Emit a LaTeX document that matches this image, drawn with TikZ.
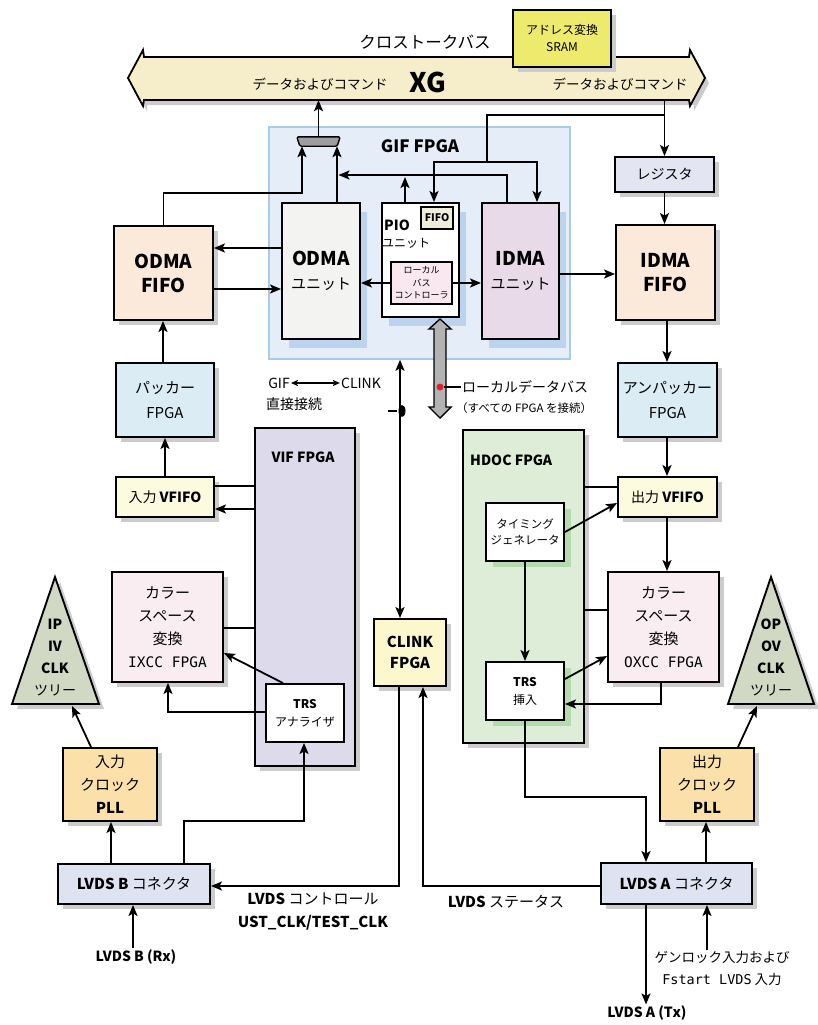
\documentclass[tikz,border=0pt]{standalone}
\usepackage{fontspec}
\setmainfont{Noto Sans CJK JP}
\newfontfamily\mono{DejaVu Sans Mono}
\usetikzlibrary{arrows.meta,shadows,calc}
\definecolor{busfill}{HTML}{F6EECB}
\definecolor{sramy}{HTML}{EEEA6E}
\definecolor{gifbg}{HTML}{E5EDF8}
\definecolor{gifborder}{HTML}{A9CBEA}
\definecolor{odmaucol}{HTML}{F3F4F1}
\definecolor{idmaucol}{HTML}{E8DAE8}
\definecolor{lbccol}{HTML}{FAE8F0}
\definecolor{fifocol}{HTML}{EFEEDB}
\definecolor{peach}{HTML}{FBE9DA}
\definecolor{lblue}{HTML}{DCECF4}
\definecolor{regcol}{HTML}{E3E6F2}
\definecolor{vfifocol}{HTML}{FDFBDF}
\definecolor{vifcol}{HTML}{DDDAEC}
\definecolor{hdoccol}{HTML}{DDEDD8}
\definecolor{pinkcol}{HTML}{F9EDF2}
\definecolor{tricol}{HTML}{D1D9C4}
\definecolor{pllcol}{HTML}{FBE0AA}
\definecolor{lvdscol}{HTML}{DDE3F1}
\definecolor{clinkcol}{HTML}{FCF7CC}
\definecolor{shadowgray}{HTML}{CCCCCC}
\definecolor{shadowblue}{HTML}{BCD3EE}
\definecolor{shadowgreen}{HTML}{B6DAAF}
\definecolor{busgray}{HTML}{B3B3B3}
\definecolor{muxgray}{HTML}{9E9E9E}
\definecolor{reddot}{HTML}{E0202A}
\tikzset{
  box/.style={draw, line width=1.9pt, inner sep=0pt, align=center},
  shd/.style={drop shadow={shadow xshift=5pt, shadow yshift=-5pt, fill=shadowgray, opacity=1}},
  bshd/.style={drop shadow={shadow xshift=7pt, shadow yshift=-9pt, fill=shadowblue, opacity=1}},
  gshd/.style={drop shadow={shadow xshift=7pt, shadow yshift=-6pt, fill=shadowgreen, opacity=1}},
  conn/.style={line width=1.8pt},
  arr/.style={conn, -{Stealth[length=11pt,width=9pt,inset=2.5pt]}},
  darr/.style={conn, {Stealth[length=11pt,width=9pt,inset=2.5pt]}-{Stealth[length=11pt,width=9pt,inset=2.5pt]}},
  smallarr/.style={line width=1.3pt, {Stealth[length=7pt,width=6pt,inset=1.5pt]}-{Stealth[length=7pt,width=6pt,inset=1.5pt]}},
  lbl/.style={inner sep=1pt, align=center},
}
\newcommand\mkbox[7]{\node[box,#2,minimum width={#5-#3},minimum height={#6-#4}] (#1) at ({(#3+#5)/2},{(#4+#6)/2}) {#7};}
\begin{document}
\begin{tikzpicture}[x=1pt,y=-1pt]
\useasboundingbox (0,0) rectangle (817,1025);

% ---------- cross-talk bus ----------
\fill[shadowgray] (132,83) -- (147,55) -- (147,62) -- (694,62) -- (694,55) -- (709,83) -- (694,111) -- (694,105) -- (147,105) -- (147,111) -- cycle;
\draw[line width=1.8pt, fill=busfill, line join=miter] (128,78) -- (143,50) -- (144,57) -- (689,57) -- (690,50) -- (705,78) -- (690,106) -- (689,100) -- (144,100) -- (143,106) -- cycle;
\node[minimum width=547, minimum height=43, inner sep=0pt] (bus) at (416.5,78.5) {};
\node[lbl, font=\fontsize{16.5}{20}\selectfont] (xtalk) at (425,42) {クロストークバス};
\mkbox{sram}{fill=sramy,shd,font=\fontsize{12}{17}\selectfont}{513}{10}{611}{67}{アドレス変換\\SRAM}
\node[lbl, font=\fontsize{13.5}{16}\selectfont] (dc1) at (320,84) {データおよびコマンド};
\node[lbl, font=\bfseries\fontsize{27}{30}\selectfont] (xg) at (428,82) {XG};
\node[lbl, font=\fontsize{13.5}{16}\selectfont] (dc2) at (620,84) {データおよびコマンド};

% ---------- GIF FPGA ----------
\mkbox{gif}{draw=gifborder,fill=gifbg,line width=1.5pt}{269}{127}{570}{359}{}
\node[lbl, font=\bfseries\fontsize{17}{20}\selectfont] (giflbl) at (420,146) {GIF FPGA};
\node[minimum width=43, minimum height=9, inner sep=0pt] (mux) at (318.5,141.5) {};
\draw[line width=1.4pt, fill=muxgray, rounded corners=1.5pt] (mux.north west) -- (mux.north east) -- ([xshift=-3pt]mux.south east) -- ([xshift=3pt]mux.south west) -- cycle;

\mkbox{odmau}{fill=odmaucol,bshd,font=\fontsize{15}{24}\selectfont}{282}{203}{360}{339}{{\bfseries\fontsize{19}{24}\selectfont ODMA}\\ユニット}
\mkbox{pio}{fill=white,bshd}{382}{203}{459}{317}{}
\node[lbl, font=\bfseries\fontsize{14}{16}\selectfont] (piolbl) at (397,225) {PIO};
\node[lbl, font=\fontsize{12}{14}\selectfont] (pioj) at (406,243) {ユニット};
\mkbox{pfifo}{fill=fifocol,line width=1.5pt,font=\bfseries\fontsize{10.5}{12}\selectfont}{421}{207}{453}{229}{FIFO}
\mkbox{lbc}{fill=lbccol,line width=1.5pt,font=\fontsize{9}{12.5}\selectfont}{391}{262}{452}{304}{ローカル\\バス\\コントローラ}
\mkbox{idmau}{fill=idmaucol,bshd,font=\fontsize{15}{24}\selectfont}{482}{203}{559}{339}{{\bfseries\fontsize{19}{24}\selectfont IDMA}\\ユニット}

% ---------- left/right columns ----------
\mkbox{odmafifo}{fill=peach,shd,font=\bfseries\fontsize{19}{24}\selectfont}{114}{226}{213}{320}{ODMA\\FIFO}
\mkbox{idmafifo}{fill=peach,shd,font=\bfseries\fontsize{19}{24}\selectfont}{616}{225}{715}{320}{IDMA\\FIFO}
\mkbox{reg}{fill=regcol,shd,font=\fontsize{14}{17}\selectfont}{615}{157}{714}{192}{レジスタ}
\mkbox{packer}{fill=lblue,shd,font=\fontsize{15}{25}\selectfont}{116}{363}{214}{437}{パッカー\\FPGA}
\mkbox{unpacker}{fill=lblue,shd,font=\fontsize{15}{25}\selectfont}{618}{363}{717}{437}{アンパッカー\\FPGA}
\mkbox{invfifo}{fill=vfifocol,shd,font=\fontsize{14}{17}\selectfont}{116}{477}{214}{517}{入力 \textbf{VFIFO}}
\mkbox{outvfifo}{fill=vfifocol,shd,font=\fontsize{14}{17}\selectfont}{618}{477}{717}{517}{出力 \textbf{VFIFO}}

% ---------- VIF FPGA ----------
\mkbox{vif}{fill=vifcol,shd}{255}{428}{355}{766}{}
\node[lbl, font=\bfseries\fontsize{14}{16}\selectfont] (viflbl) at (303,457) {VIF FPGA};
\mkbox{trsa}{fill=white,font=\fontsize{12}{18}\selectfont}{266}{684}{344}{742}{\textbf{TRS}\\アナライザ}
\mkbox{ixcc}{fill=pinkcol,shd,font=\fontsize{15}{23}\selectfont}{112}{572}{223}{682}{カラー\\スペース\\変換\\{\mono\fontsize{14.5}{23}\selectfont IXCC FPGA}}

% ---------- HDOC FPGA ----------
\mkbox{hdoc}{fill=hdoccol,shd}{463}{430}{584}{743}{}
\node[lbl, anchor=west, font=\bfseries\fontsize{14}{16}\selectfont] (hdoclbl) at (469,460) {HDOC FPGA};
\mkbox{timing}{fill=white,gshd,font=\fontsize{11.5}{16}\selectfont}{486}{503}{564}{561}{タイミング\\ジェネレータ}
\mkbox{trsi}{fill=white,gshd,font=\fontsize{12}{18}\selectfont}{486}{662}{564}{720}{\textbf{TRS}\\挿入}
\mkbox{oxcc}{fill=pinkcol,shd,font=\fontsize{15}{23}\selectfont}{608}{572}{719}{682}{カラー\\スペース\\変換\\{\mono\fontsize{14.5}{23}\selectfont OXCC FPGA}}

% ---------- CLINK ----------
\mkbox{clink}{fill=clinkcol,shd,font=\bfseries\fontsize{15}{21}\selectfont}{374}{619}{446}{686}{CLINK\\FPGA}

% ---------- clock trees ----------
\fill[shadowgray] (60,582) -- (17,709) -- (104,709) -- cycle;
\draw[line width=1.9pt, fill=tricol, line join=miter] (55,577) -- (12,704) -- (99,704) -- cycle;
\node[lbl, font=\bfseries\fontsize{14}{22}\selectfont] (iptree) at (55,658) {IP\\IV\\CLK\\{\mdseries ツリー}};
\coordinate (ipin) at (72,706);
\fill[shadowgray] (776,582) -- (733,709) -- (819,709) -- cycle;
\draw[line width=1.9pt, fill=tricol, line join=miter] (771,577) -- (728,704) -- (814,704) -- cycle;
\node[lbl, font=\bfseries\fontsize{14}{22}\selectfont] (optree) at (771,657) {OP\\OV\\CLK\\{\mdseries ツリー}};
\coordinate (opin) at (757,706);

\mkbox{pllin}{fill=pllcol,shd,font=\fontsize{15}{23}\selectfont}{63}{748}{157}{821}{入力\\クロック\\\textbf{PLL}}
\mkbox{pllout}{fill=pllcol,shd,font=\fontsize{15}{23}\selectfont}{660}{748}{754}{821}{出力\\クロック\\\textbf{PLL}}
\mkbox{lvdsb}{fill=lvdscol,shd,font=\fontsize{15}{17}\selectfont}{58}{864}{210}{904}{\textbf{LVDS B} コネクタ}
\mkbox{lvdsa}{fill=lvdscol,shd,font=\fontsize{15}{17}\selectfont}{601}{863}{752}{904}{\textbf{LVDS A} コネクタ}

% ---------- labels ----------
\node[lbl, font=\fontsize{14}{17}\selectfont] (lgif) at (279,383) {GIF};
\node[lbl, font=\fontsize{14}{17}\selectfont] (lclink) at (361,383) {CLINK};
\node[lbl, anchor=west, font=\fontsize{14}{17}\selectfont] (direct) at (265,404) {直接接続};
\node[lbl, anchor=west, font=\fontsize{14}{17}\selectfont] (ldb) at (461,387) {ローカルデータバス};
\node[lbl, anchor=west, font=\fontsize{11.5}{14}\selectfont] (ldb2) at (455,408) {（すべての FPGA を接続）};
\node[lbl, font=\fontsize{15}{23}\selectfont] (lvdsctl) at (313,912) {\textbf{LVDS} コントロール\\\textbf{UST\_CLK/TEST\_CLK}};
\node[lbl, font=\fontsize{15}{17}\selectfont] (lvdsst) at (506,902) {\textbf{LVDS} ステータス};
\node[lbl, font=\bfseries\fontsize{14}{16}\selectfont] (lvdsbrx) at (136,957) {LVDS B (Rx)};
\node[lbl, font=\bfseries\fontsize{14}{16}\selectfont] (lvdsatx) at (647,1013) {LVDS A (Tx)};
\node[lbl, font=\fontsize{13.5}{22}\selectfont] (genlock) at (722,968) {ゲンロック入力および\\{\mono\fontsize{13.5}{22}\selectfont Fstart LVDS} 入力};

% ---------- connectors ----------
\draw[arr] (mux.north) -- (mux.north |- bus.south);
\draw[arr] (odmafifo.north) |- (302,193) -- (mux.south -| 302,0);
\draw[arr] (odmau.north -| 337,0) -- (mux.south -| 337,0);
\draw[arr] (idmau.north -| 507,0) |- (338.5,175);
\draw[arr] (pio.north -| 405,0) -- (405,177);
\draw[arr] (bus.south -| reg.north) -- (reg.north);
\draw[conn] (reg.north |- 0,115) -| (487,162);
\draw[arr] (487,162) -| (pio.north -| 434,0);
\draw[arr] (487,162) -| (idmau.north -| 537,0);
\draw[arr] (odmau.west |- 0,248) -- (odmafifo.east |- 0,248);
\draw[arr] (odmafifo.east |- 0,289) -- (odmau.west |- 0,289);
\draw[arr] (lbc.west |- 0,283) -- (odmau.east |- 0,283);
\draw[arr] (lbc.east |- 0,283) -- (idmau.west |- 0,283);
\draw[arr] (idmau.east |- 0,274) -- (idmafifo.west |- 0,274);
\draw[arr] (reg.south) -- (reg.south |- idmafifo.north);
\draw[arr] (idmafifo.south -| 667,0) -- (unpacker.north -| 667,0);
\draw[arr] (unpacker.south -| 667,0) -- (outvfifo.north -| 667,0);
\draw[arr] (outvfifo.south -| 667,0) -- (oxcc.north -| 667,0);
\draw[arr] (packer.north -| 163,0) -- (odmafifo.south -| 163,0);
\draw[arr] (invfifo.north -| 165,0) -- (packer.south -| 165,0);
\draw[conn] (vif.west |- 0,486) -- (invfifo.east |- 0,486);
\draw[arr] (vif.west |- 0,509) -- (invfifo.east |- 0,509);
\draw[conn] (ixcc.east |- 0,628) -- (vif.west |- 0,628);
\draw[arr] (trsa.north -| 283,0) -- (ixcc.east |- 0,653);
\draw[arr] (trsa.west |- 0,712) -| (ixcc.south -| 168,0);
\draw[arr] (pllin.north -| 91,0) -- (ipin);
\draw[arr] (lvdsb.north -| 111,0) -- (pllin.south -| 111,0);
\draw[arr] (lvdsb.north -| 184,0) |- (304,821) -- (trsa.south -| 304,0);
\draw[arr] (clink.south -| 399,0) |- (lvdsb.east |- 0,886);
\draw[arr] (lvdsa.west |- 0,886) -| (clink.south -| 423,0);
\draw[darr] (gif.south -| 400,0) -- (clink.north -| 400,0);
\draw[conn] (388,411) -- (397,411);
\fill (402,411) ellipse [x radius=3.5pt, y radius=6pt];
\draw[conn] (hdoc.east |- 0,487) -- (outvfifo.west |- 0,487);
\draw[arr] (timing.east |- 0,532) -- (outvfifo.west |- 0,503);
\draw[conn] (hdoc.east |- 0,610) -- (oxcc.west |- 0,610);
\draw[arr] (timing.south) -- (trsi.north);
\draw[arr] (trsi.east |- 0,679) -- (oxcc.west |- 0,656);
\draw[arr] (oxcc.south -| 661,0) |- (trsi.east |- 0,704);
\draw[arr] (trsi.south) |- (646,797) -- (lvdsa.north -| 646,0);
\draw[arr] (lvdsa.north -| 706,0) -- (pllout.south -| 706,0);
\draw[arr] (pllout.north -| 738,0) -- (opin);
\draw[arr] (lvdsa.south -| 646,0) -- (lvdsatx.north -| 646,0);
\draw[arr] (genlock.north -| 707,0) -- (lvdsa.south -| 707,0);
\draw[arr] (lvdsbrx.north -| 133,0) -- (lvdsb.south -| 133,0);
\draw[smallarr] (lgif) -- (lclink);

% ---------- local data bus ----------
\draw[line width=1.4pt, fill=busgray, line join=miter] (440,319) -- (451,329) -- (446,329) -- (446,407) -- (451,407) -- (440,418) -- (429,407) -- (434,407) -- (434,329) -- (429,329) -- cycle;
\node[circle, fill=reddot, inner sep=0pt, minimum size=7pt] (dot) at (440,387) {};
\draw[line width=1.1pt] (dot) -- (ldb.west);
\end{tikzpicture}
\end{document}
